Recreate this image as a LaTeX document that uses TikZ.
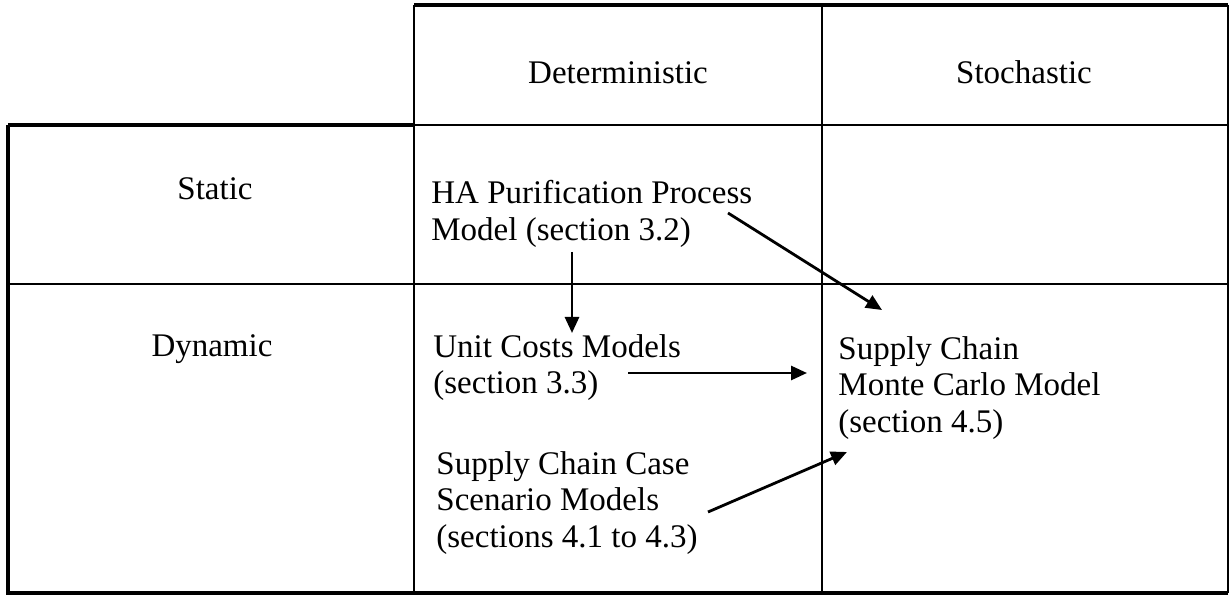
\documentclass[tikz,border=0pt]{standalone}
\usepackage{fontspec}
\setmainfont{Liberation Serif}
\usetikzlibrary{arrows.meta}

\begin{document}
\begin{tikzpicture}[x=0.5pt,y=-0.5pt,
    txt/.style={font=\fontsize{16.5}{18.2}\selectfont, inner sep=0pt},
    head/.style={txt, anchor=base},
    cell/.style={txt, align=left, anchor=north west},
    rule/.style={line width=1.4pt},
    frame/.style={line width=2.4pt},
    arr/.style={-{Triangle[length=8pt,width=7pt]}, line width=1.4pt}]
    \useasboundingbox (0,0) rectangle (1230,598);
    % table
    \draw[frame] (414,5) -- (1228,5);
    \draw[frame] (8,125) -- (414,125);
    \draw[frame] (8,125) -- (8,593) -- (1228,593);
    \draw[rule] (1228,5) -- (1228,593);
    \draw[rule] (414,125) -- (1228,125);
    \draw[rule] (414,5) -- (414,593);
    \draw[rule] (822,5) -- (822,593);
    \draw[rule] (8,284) -- (1228,284);
    % headings
    \node[head] (det) at (618,84) {Deterministic};
    \node[head] (sto) at (1024,84) {Stochastic};
    \node[head] (stat) at (215,200) {Static};
    \node[head] (dyn) at (212,357) {Dynamic};
    % models
    \node[cell] (ha) at (431,180) {HA Purification Process\\Model (section 3.2)};
    \node[cell] (uc) at (433,334) {Unit Costs Models\\(section 3.3)};
    \node[cell] (scc) at (436,451) {Supply Chain Case\\Scenario Models\\(sections 4.1 to 4.3)};
    \node[cell] (mc) at (838,336) {Supply Chain\\Monte Carlo Model\\(section 4.5)};
    % arrow ends
    \coordinate (ha-down) at (572,252);
    \coordinate (ha-right) at (728,213);
    \coordinate (uc-top) at (572,333);
    \coordinate (uc-right) at (628,373);
    \coordinate (scc-right) at (708,512);
    \coordinate (mc-top) at (882,310);
    \coordinate (mc-left) at (807,373);
    \coordinate (mc-low) at (847,452);
    \draw[arr] (ha-down) -- (uc-top);
    \draw[arr] (ha-right) -- (mc-top);
    \draw[arr] (uc-right) -- (mc-left);
    \draw[arr] (scc-right) -- (mc-low);
\end{tikzpicture}
\end{document}
